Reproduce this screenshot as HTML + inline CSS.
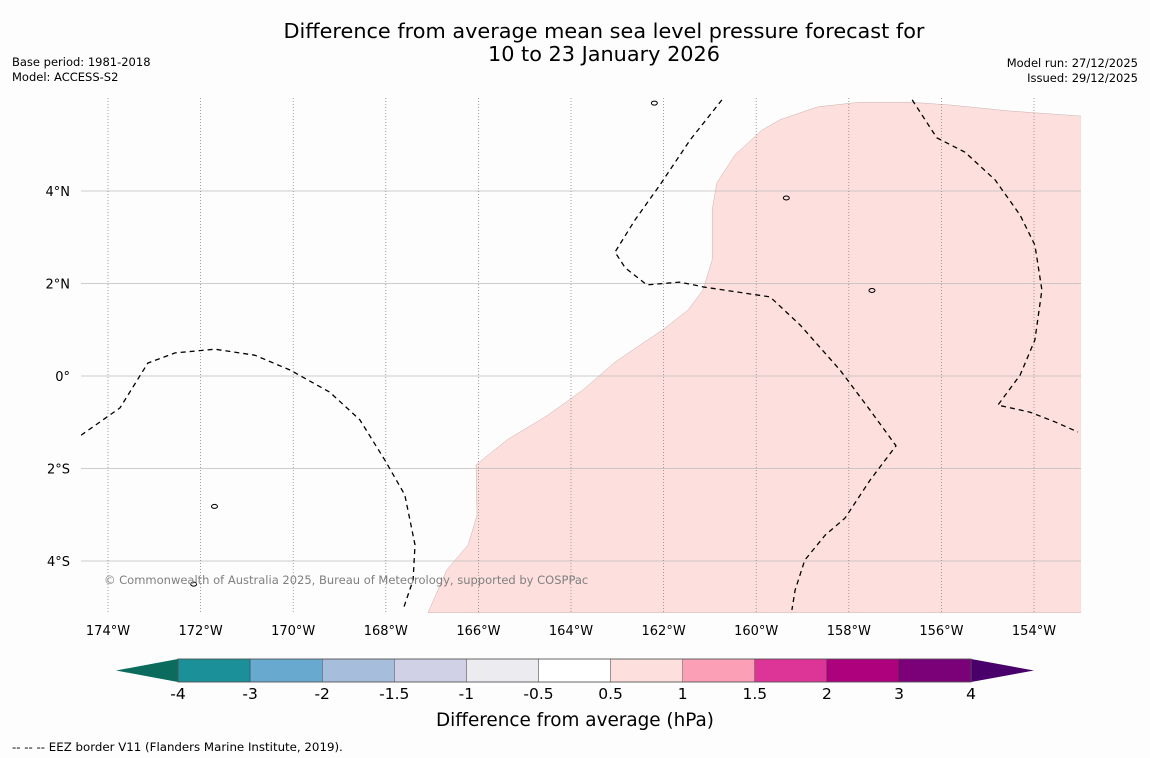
<!DOCTYPE html>
<html><head><meta charset="utf-8"><style>
html,body{margin:0;padding:0;background:#fdfdfd;}
svg{display:block;font-family:"DejaVu Sans","Liberation Sans",sans-serif;}
</style></head><body>
<svg id="chart" width="1150" height="758" viewBox="0 0 1150 758">
<rect width="1150" height="758" fill="#fdfdfd"/>
<text x="604" y="38" text-anchor="middle" font-size="20.8">Difference from average mean sea level pressure forecast for</text>
<text x="604" y="61" text-anchor="middle" font-size="20.8">10 to 23 January 2026</text>
<text x="12" y="66" font-size="11.5">Base period: 1981-2018</text>
<text x="12" y="81" font-size="11.5">Model: ACCESS-S2</text>
<text x="1138" y="67" text-anchor="end" font-size="11.5">Model run: 27/12/2025</text>
<text x="1138" y="82" text-anchor="end" font-size="11.5">Issued: 29/12/2025</text>
<defs><clipPath id="mapclip"><rect x="81" y="98" width="1000" height="515"/></clipPath></defs>
<g id="map" clip-path="url(#mapclip)"></g>
<g id="axes"></g>
<g id="cbar"></g>
<text x="575" y="726" text-anchor="middle" font-size="18.4">Difference from average (hPa)</text>
<text x="12" y="751" font-size="11.8">--  --  -- EEZ border V11 (Flanders Marine Institute, 2019).</text>
</svg>
<script>
const lonTicks=[-174,-172,-170,-168,-166,-164,-162,-160,-158,-156,-154];
const latTicks=[4,2,0,-2,-4];
const latLabels=["4°N","2°N","0°","2°S","4°S"];
const pinkLon=[-167.09,-166.68,-166.22,-166.03,-166.05,-165.38,-164.52,-163.74,-163.05,-162.51,-162.03,-161.47,-161.15,-160.95,-160.95,-160.85,-160.46,-159.87,-159.49,-158.67,-157.76,-156.68,-155.81,-154.52,-152.98,-152.98];
const pinkLat=[-5.12,-4.19,-3.65,-3.01,-1.92,-1.38,-0.86,-0.30,0.30,0.67,0.99,1.43,1.86,2.51,3.59,4.17,4.78,5.32,5.54,5.82,5.92,5.92,5.86,5.73,5.62,-5.12];
const c1Lon=[-174.58,-173.74,-173.14,-172.55,-171.69,-170.83,-170.07,-169.21,-168.56,-168.02,-167.59,-167.37,-167.41,-167.63];
const c1Lat=[-1.28,-0.69,0.28,0.50,0.58,0.45,0.13,-0.35,-0.95,-1.82,-2.57,-3.65,-4.41,-5.06];
const c2Lon=[-160.74,-161.43,-162.08,-162.62,-163.05,-162.83,-162.36,-161.65,-161.11,-159.70,-159.05,-158.19,-157.54,-156.98,-157.54,-158.08,-158.51,-158.95,-159.16,-159.23];
const c2Lat=[5.97,5.10,4.13,3.37,2.68,2.34,1.97,2.03,1.92,1.71,1.10,0.13,-0.74,-1.51,-2.25,-3.07,-3.44,-3.98,-4.63,-5.06];
const c3Lon=[-156.63,-156.10,-155.49,-154.84,-154.30,-153.98,-153.83,-153.98,-154.30,-154.78,-154.09,-153.55,-153.05];
const c3Lat=[5.97,5.15,4.84,4.24,3.48,2.83,1.86,0.78,0.02,-0.63,-0.78,-0.99,-1.21];
const cbLabels=["-4","-3","-2","-1.5","-1","-0.5","0.5","1","1.5","2","3","4"];
const cbColors=["#1b9098","#67a9cf","#a6bddb","#d0d1e6","#ececf0","#ffffff","#fde0dd","#fa9fb5","#dd3497","#ae017e","#7a0177"];

const NS="http://www.w3.org/2000/svg";
const X=lon=>108+(lon+174)*46.3;
const Y=lat=>376-lat*46.25;
function mk(tag,attrs,parent){const e=document.createElementNS(NS,tag);for(const k in attrs)e.setAttribute(k,attrs[k]);parent.appendChild(e);return e;}
function pts(lo,la){return lo.map((v,i)=>X(v).toFixed(1)+","+Y(la[i]).toFixed(1)).join(" ");}
const map=document.getElementById('map'),axes=document.getElementById('axes'),cb=document.getElementById('cbar');

const pink=mk('polygon',{points:pts(pinkLon,pinkLat),fill:'#fde0dd',stroke:'#c8b0ae','stroke-width':0.5},map);



latTicks.forEach((t,i)=>{
 const l=mk('line',{x1:81,x2:1081,y1:Y(t),y2:Y(t),stroke:'#bdbdbd','stroke-width':0.8},map);
 
 
 const tx=mk('text',{x:70,y:Y(t)+5,'text-anchor':'end','font-size':13},axes);
 tx.textContent=latLabels[i];
 
 
});
lonTicks.forEach(t=>{
 const l=mk('line',{x1:X(t),x2:X(t),y1:98,y2:613,stroke:'#888','stroke-width':0.8,'stroke-dasharray':'1,2'},map);
 
 
 const tx=mk('text',{x:X(t),y:635,'text-anchor':'middle','font-size':13},axes);
 tx.textContent=Math.abs(t)+"°W";
 
 
});
[[c1Lon,c1Lat],[c2Lon,c2Lat],[c3Lon,c3Lat]].forEach(c=>{
 const p=mk('polyline',{points:pts(c[0],c[1]),fill:'none',stroke:'#000','stroke-width':1.3,'stroke-dasharray':'5,4','stroke-linejoin':'round'},map);
 
 
});
[[-159.35,3.85],[-157.5,1.85],[-171.7,-2.82],[-172.15,-4.5],[-162.2,5.9]].forEach(s=>{
 const e=mk('ellipse',{cx:X(s[0]),cy:Y(s[1]),rx:3,ry:2,fill:'none',stroke:'#000','stroke-width':1},map);
 
 
});
const cr=mk('text',{x:104,y:584,'font-size':11.5,fill:'#7f7f7f'},map);
cr.textContent="© Commonwealth of Australia 2025, Bureau of Meteorology, supported by COSPPac";



const cx0=178,cw=72.1,cy0=659,ch=23;
const tl=mk('polygon',{points:`116,${cy0+ch/2} ${cx0},${cy0} ${cx0},${cy0+ch}`,fill:'#0b6b5c'},cb);


cbColors.forEach((c,i)=>{
 const r=mk('rect',{x:cx0+i*cw,y:cy0,width:cw,height:ch,fill:c,stroke:'#333','stroke-width':0.4},cb);
 
 
});
const xe=cx0+cbColors.length*cw;
const tr=mk('polygon',{points:`${xe},${cy0} 1034,${cy0+ch/2} ${xe},${cy0+ch}`,fill:'#49006a'},cb);


mk('rect',{x:cx0,y:cy0,width:xe-cx0,height:ch,fill:'none',stroke:'#555','stroke-width':0.8},cb);
cbLabels.forEach((s,i)=>{
 const t=mk('text',{x:cx0+i*cw,y:699,'text-anchor':'middle','font-size':15.5},cb);
 t.textContent=s;
 
 
});
</script>
</body></html>
